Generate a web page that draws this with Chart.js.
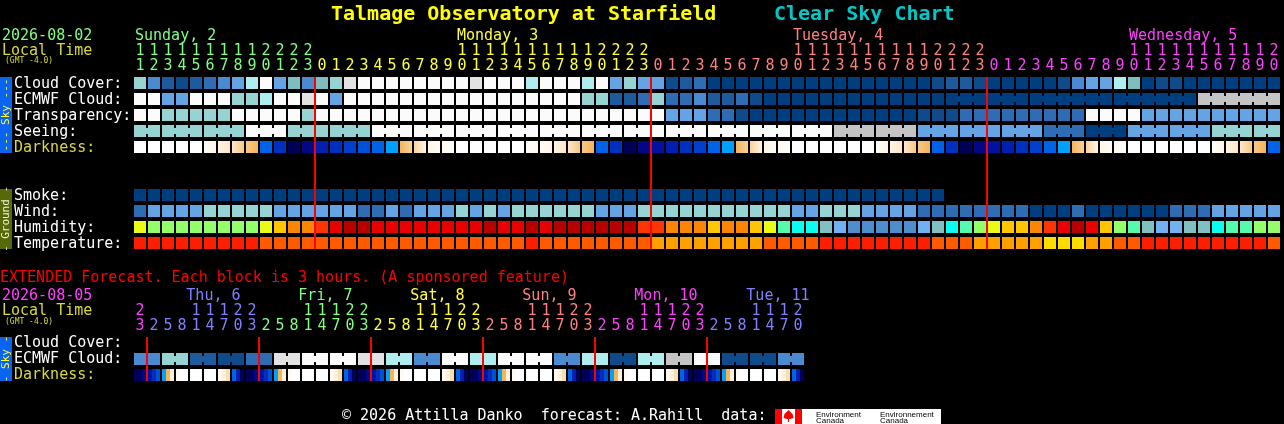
<!DOCTYPE html>
<html>
<head>
<meta charset="utf-8">
<title>Talmage Observatory at Starfield - Clear Sky Chart</title>
<script src="https://cdn.jsdelivr.net/npm/chart.js@4.4.1/dist/chart.umd.min.js"></script>
<style>
  html, body { margin:0; padding:0; background:#000; overflow:hidden; }
  #wrap { width:1284px; height:424px; }
</style>
</head>
<body>
<div id="wrap"><canvas id="csc" width="1284" height="424"></canvas></div>
<script>
// ── Clear Sky Chart: hourly blocks + extended 3-hour forecast ──

// ── HOURS (local time, one column per hour) ───────────
var HOURS = [11,12,13,14,15,16,17,18,19,20,21,22,23,
  0,1,2,3,4,5,6,7,8,9,10,11,12,13,14,15,16,17,18,19,20,21,22,23,
  0,1,2,3,4,5,6,7,8,9,10,11,12,13,14,15,16,17,18,19,20,21,22,23,
  0,1,2,3,4,5,6,7,8,9,10,11,12,13,14,15,16,17,18,19,20];
var DAY_NAMES  = ['Sunday, 2', 'Monday, 3', 'Tuesday, 4', 'Wednesday, 5'];
var DAY_COLORS = ['#80ff80', '#ffff40', '#ff8080', '#ff40ff'];

// Sky levels: 0 = clear/dark blue ... 11 = overcast/white
var CLOUD = [7,4,2,1,2,3,4,5,8,11,5,6,4,
  6,7,10,11,11,11,11,11,11,11,11,10,11,11,11,8,11,11,11,8,11,5,7,5,
  5,1,2,3,0,0,0,0,0,0,0,0,0,0,0,0,0,0,0,0,1,2,2,1,
  0,0,0,0,0,1,4,5,5,8,6,0,1,1,0,0,0,0,0,0,0];
var ECMWF = [11,11,5,5,11,11,11,7,7,8,11,11,10,
  11,5,11,11,11,11,11,11,11,11,11,11,11,11,11,11,11,11,11,7,7,2,2,3,
  7,3,3,4,2,2,3,1,0,0,0,0,0,0,0,0,0,0,0,0,0,0,0,0,
  0,0,0,0,0,0,0,0,0,0,0,0,0,0,0,9,9,9,9,9,9];
var ECMWF_GROUPS = [[58,60],[61,63],[64,69],[70,75],[76,81]];
var TRANSP = [11,11,7,7,7,7,7,11,11,11,11,11,7,
  11,11,11,11,11,11,11,11,11,11,11,11,11,11,11,11,11,11,11,11,11,11,11,11,
  11,5,5,5,3,3,1,0,0,0,0,0,0,0,0,0,0,0,0,1,1,1,3,3,
  3,3,3,3,3,3,3,11,11,11,11,5,5,5,5,5,5,5,5,5,5];
var SEEING = [7,7,7,7,7,7,7,7,11,11,11,7,7,
  7,7,7,7,11,11,11,11,11,11,11,11,11,11,11,11,11,11,11,11,11,11,11,11,
  11,11,11,11,11,11,11,11,11,11,11,11,11,9,9,9,9,9,9,5,5,5,5,5,
  5,5,5,5,3,3,3,0,0,0,5,5,5,5,5,5,7,7,7,7,7];
// Darkness: 0 = daylight ... 4 = twilight, 5..13 = night (deeper)
var DARK = [0,0,0,0,0,1,2,3,4,6,9,13,12,
  10,9,8,7,6,5,4,2,1,1,0,0,0,0,0,1,1,2,3,4,6,9,13,12,
  11,10,9,8,6,5,4,2,1,1,0,0,0,0,0,0,1,2,3,4,6,9,13,12,
  11,10,9,8,6,5,4,2,1,1,0,0,0,0,0,0,1,2,3,4,6];

// Ground rows
var SMOKE = [0,0,0,0,0,0,0,0,0,0,0,0,0,0,0,0,0,0,0,0,0,0,0,0,0,0,0,0,0,
  0,0,0,0,0,0,0,0,0,0,0,0,0,0,0,0,0,0,0,0,0,0,0,0,0,0,0,0,0];
var WIND = [1,2,2,2,2,3,3,3,3,3,2,2,2,2,2,2,1,1,2,1,2,
  2,2,3,2,3,2,3,3,3,3,3,3,2,2,2,3,3,3,3,3,3,3,3,3,3,3,2,2,3,3,3,
  2,2,2,2,1,1,1,1,1,1,1,1,0,0,0,1,0,0,0,0,0,0,1,1,1,2,2,2,2,2];
var HUMID = [67,62,62,62,62,62,62,62,62,67,72,77,77,82,87,92,92,87,87,87,87,
  87,87,87,87,92,87,87,92,87,92,92,92,92,92,92,82,82,77,77,77,72,77,77,72,67,57,52,52,47,42,
  37,37,37,37,37,42,47,52,57,62,67,72,72,77,82,87,92,87,72,62,57,47,42,42,47,47,52,57,57,62,62];
var TEMP = [88,88,88,88,88,88,88,88,88,
  81,81,81,81,81,81,81,81,81,81,81,81,81,81,81,81,81,81,81,88,
  81,81,81,81,81,81,81,81,72,72,72,72,72,72,72,72,81,81,81,81,
  88,88,88,88,88,88,88,88,81,81,81,72,72,72,72,72,66,66,66,72,72,81,81,
  88,88,88,88,88,88,88,88,88,81];

// ── EXTENDED (one column per 3 hours) ─────────────────
var EXT_HOURS = [23,
  2,5,8,11,14,17,20,23, 2,5,8,11,14,17,20,23, 2,5,8,11,14,17,20,23,
  2,5,8,11,14,17,20,23, 2,5,8,11,14,17,20,23, 2,5,8,11,14,17,20];
var EXT_DAY_NAMES  = ['', 'Thu, 6', 'Fri, 7', 'Sat, 8', 'Sun, 9', 'Mon, 10', 'Tue, 11'];
var EXT_DAY_COLORS = ['#ff40ff', '#8080ff', '#80ff80', '#ffff40', '#ff8080', '#ff40ff', '#8080ff'];
var EXT_ECMWF = [4,7,2,1,3,10,11,11,10,8,4,11,8,11,11,4,8,1,8,9,11,1,1,4]; // per 6 h
var EXT_DARK = [[13,13,12],
  [11,9,7],[5,4,2],[1,0,0],[0,0,0],[0,0,0],[1,2,3],[6,10,13],[13,13,12],
  [11,9,7],[5,4,2],[1,0,0],[0,0,0],[0,0,0],[1,2,3],[6,10,13],[13,13,12],
  [11,9,7],[5,4,2],[1,0,0],[0,0,0],[0,0,0],[1,2,3],[6,10,13],[13,13,12],
  [11,9,7],[5,4,2],[1,0,0],[0,0,0],[0,0,0],[1,2,3],[6,10,13],[13,13,12],
  [11,9,7],[5,4,2],[1,0,0],[0,0,0],[0,0,0],[1,2,3],[6,10,13],[13,13,12],
  [11,9,7],[5,4,2],[1,0,0],[0,0,0],[0,0,0],[1,2,3],[6,10,13]];

// ── PALETTES ──────────────────────────────────────────
var SKY = ['#003f7f','#0f4b8b','#1d5a9e','#2e6cb4','#4a8ad0','#64a4e4',
           '#7ebebe','#96d4d4','#aeeeee','#c4c4c4','#e2e2e2','#fbfbfb'];
var DARK_COLORS = ['#ffffff','#fffaf2','#fff0da','#fcdcb2','#f4b45c','#00a0ff','#0062e6',
                   '#0050d8','#0040cc','#0030bf','#0020b0','#0012a0','#000888','#000058'];
var WIND_COLORS = ['#003f7f','#2e6cb4','#64a4e4','#96d4d4'];

function humColor(h) {
  var bins = ['#08035d','#0d4d8d','#3070b0','#4e8ece','#71b1f1','#80c0c0','#09feed','#55faad',
              '#94fe6a','#eafb16','#fec600','#fc8602','#fe3401','#ea0000','#b70000','#e10000'];
  var i = Math.max(0, Math.min(bins.length - 1, Math.floor((h - 20) / 5)));
  return bins[i];
}
function tempColor(t) {
  if (t >= 86) return '#fc1e00';
  if (t >= 77) return '#fe5a00';
  if (t >= 68) return '#ffa000';
  return '#fedc00';
}

// ── LAYOUT (rows, in row units of 16 px) ──────────────
var ROW = { cloud:0, ecmwf:1, transp:2, seeing:3, dark:4,
            smoke:7, wind:8, humid:9, temp:10,
            xCloud:16.25, xEcmwf:17.25, xDark:18.25 };
var HALF = 0.375;   // 12 px block
var JOIN = 0.19;    // connector half-height
var MONO = '"DejaVu Sans Mono", "Liberation Mono", monospace';

// ── HELPERS ───────────────────────────────────────────
function dayIndex(hours) {
  var d = 0, out = [];
  for (var i = 0; i < hours.length; i++) {
    if (i > 0 && hours[i] < hours[i - 1]) d++;
    out.push(d);
  }
  return out;
}
var DAY_OF = dayIndex(HOURS);
var EXT_DAY_OF = dayIndex(EXT_HOURS);

function hex2rgb(h) {
  return [parseInt(h.substr(1,2),16), parseInt(h.substr(3,2),16), parseInt(h.substr(5,2),16)];
}
function mix(a, b) {
  var p = hex2rgb(a), q = hex2rgb(b);
  return 'rgb(' + Math.round((p[0]+q[0])/2) + ',' + Math.round((p[1]+q[1])/2) + ',' + Math.round((p[2]+q[2])/2) + ')';
}

function blocks(values, row) {
  return values.map(function (v, i) { return { x: i, y: [row - HALF, row + HALF] }; });
}
function blockSet(values, row, colors, extra) {
  var ds = {
    data: blocks(values, row),
    backgroundColor: values.map(colors),
    barThickness: 12, grouped: false, borderWidth: 0, inflateAmount: 0
  };
  for (var k in extra) ds[k] = extra[k];
  return ds;
}
// connectors between columns that belong to the same forecast block
function joinSet(values, row, colors, sameBlock) {
  var data = [], bg = [];
  for (var i = 0; i < values.length - 1; i++) {
    if (sameBlock(i, i + 1)) {
      data.push({ x: i + 0.5, y: [row - JOIN, row + JOIN] });
      bg.push(colors(values[i]));
    }
  }
  return { data: data, backgroundColor: bg, barThickness: 4, grouped: false, borderWidth: 0, inflateAmount: 0 };
}
function skyColor(v) { return SKY[v]; }

// seeing comes in 3-hour blocks (starting at 1h, 4h, 7h ...)
function seeingBlock(i) { return Math.floor((DAY_OF[i] * 24 + HOURS[i] - 1) / 3); }
function ecmwfBlock(i) {
  for (var g = 0; g < ECMWF_GROUPS.length; g++)
    if (i >= ECMWF_GROUPS[g][0] && i <= ECMWF_GROUPS[g][1]) return g;
  return -1 - i;
}

// darkness: twilight hours fade into their neighbours
function darkFill(ctx) {
  var i = ctx.dataIndex, lv = DARK[i], base = DARK_COLORS[lv];
  var xs = ctx.chart.scales && ctx.chart.scales.x;
  if (lv < 1 || lv > 4 || !xs) return base;
  var prev = DARK[i - 1], next = DARK[i + 1];
  var left  = (prev !== undefined && prev <= 4) ? mix(DARK_COLORS[prev], base) : base;
  var right = (next !== undefined && next <= 4) ? mix(base, DARK_COLORS[next]) : base;
  var cx = xs.getPixelForValue(i);
  var g = ctx.chart.ctx.createLinearGradient(cx - 6, 0, cx + 6, 0);
  g.addColorStop(0, left);
  g.addColorStop(1, right);
  return g;
}

// ── DATASETS ──────────────────────────────────────────
var extEcmwfCols = [];
EXT_ECMWF.forEach(function (v) { extEcmwfCols.push(v, v); });

var extDarkData = [], extDarkBg = [];
EXT_DARK.forEach(function (tri, c) {
  tri.forEach(function (lv, k) {
    extDarkData.push({ x: c + (k - 1) * 4 / 14, y: [ROW.xDark - HALF, ROW.xDark + HALF] });
    extDarkBg.push(DARK_COLORS[lv]);
  });
});

var datasets = [
  blockSet(CLOUD,  ROW.cloud,  skyColor),
  blockSet(ECMWF,  ROW.ecmwf,  skyColor),
  joinSet(ECMWF,   ROW.ecmwf,  skyColor, function (a, b) { return ecmwfBlock(a) === ecmwfBlock(b); }),
  blockSet(TRANSP, ROW.transp, skyColor),
  blockSet(SEEING, ROW.seeing, skyColor),
  joinSet(SEEING,  ROW.seeing, skyColor, function (a, b) { return seeingBlock(a) === seeingBlock(b); }),
  { data: blocks(DARK, ROW.dark), backgroundColor: darkFill,
    barThickness: 12, grouped: false, borderWidth: 0, inflateAmount: 0 },
  blockSet(SMOKE, ROW.smoke, skyColor),
  blockSet(WIND,  ROW.wind,  function (v) { return WIND_COLORS[v]; }),
  blockSet(HUMID, ROW.humid, humColor),
  blockSet(TEMP,  ROW.temp,  tempColor),
  blockSet(extEcmwfCols, ROW.xEcmwf, skyColor),
  joinSet(extEcmwfCols,  ROW.xEcmwf, skyColor, function (a, b) { return Math.floor(a / 2) === Math.floor(b / 2); }),
  { data: extDarkData, backgroundColor: extDarkBg,
    barThickness: 4, grouped: false, borderWidth: 0, inflateAmount: 0 }
];

// ── TEXT, RED MIDNIGHT LINES, SIDE TABS ───────────────
function txt(ctx, s, x, y, color, font, align) {
  ctx.font = font || ('15px ' + MONO);
  ctx.fillStyle = color;
  ctx.textAlign = align || 'left';
  ctx.textBaseline = 'alphabetic';
  ctx.fillText(s, x, y);
}
function sideTab(ctx, ys, r0, r1, bg, fg, label) {
  var top = ys.getPixelForValue(r0 - HALF), bot = ys.getPixelForValue(r1 + HALF);
  ctx.fillStyle = bg;
  ctx.fillRect(0, top, 12, bot - top);
  ctx.save();
  ctx.translate(6.5, (top + bot) / 2);
  ctx.rotate(-Math.PI / 2);
  ctx.font = '11px ' + MONO;
  ctx.fillStyle = fg;
  ctx.textAlign = 'center';
  ctx.textBaseline = 'middle';
  ctx.fillText(label, 0, 0);
  ctx.restore();
}
function hourLabels(ctx, xs, hours, dayOf, colors, yTens, yUnits) {
  hours.forEach(function (h, c) {
    var x = xs.getPixelForValue(c), col = colors[dayOf[c]];
    if (h >= 10) txt(ctx, String(Math.floor(h / 10)), x, yTens, col, null, 'center');
    txt(ctx, String(h % 10), x, yUnits, col, null, 'center');
  });
}
function midnightLines(ctx, xs, ys, hours, r0, r1) {
  var top = ys.getPixelForValue(r0 - HALF), bot = ys.getPixelForValue(r1 + HALF);
  ctx.fillStyle = '#ff0000';
  for (var c = 1; c < hours.length; c++) {
    if (hours[c] < hours[c - 1]) {
      var x = xs.getPixelForValue(c - 0.5);
      ctx.fillRect(x - 1, top, 2, bot - top);
    }
  }
}

var cscPlugin = {
  id: 'csc',
  beforeDraw: function (chart) {
    var ctx = chart.ctx;
    ctx.save();
    ctx.fillStyle = '#000';
    ctx.fillRect(0, 0, chart.width, chart.height);
    ctx.restore();
  },
  afterDatasetsDraw: function (chart) {
    var ctx = chart.ctx, xs = chart.scales.x, ys = chart.scales.y;
    var rowY = function (r) { return ys.getPixelForValue(r) + 5; };
    ctx.save();

    midnightLines(ctx, xs, ys, HOURS, ROW.cloud, ROW.temp);
    midnightLines(ctx, xs, ys, EXT_HOURS, ROW.xCloud, ROW.xDark);

    // title
    txt(ctx, 'Talmage Observatory at Starfield', 331, 20, '#ffff00', 'bold 20px ' + MONO);
    txt(ctx, 'Clear Sky Chart', 774, 20, '#00c8c8', 'bold 20px ' + MONO);

    // main header
    txt(ctx, '2026-08-02', 2, 40, '#80ff80');
    txt(ctx, 'Local Time', 2, 55, '#d8d840');
    txt(ctx, '(GMT -4.0)', 5, 63, '#d8d840', '8px ' + MONO);
    DAY_NAMES.forEach(function (name, d) {
      for (var c = 0; c < HOURS.length; c++) {
        if (DAY_OF[c] === d && HOURS[c] >= 10) {
          txt(ctx, name, xs.getPixelForValue(c) - 5, 40, DAY_COLORS[d]);
          break;
        }
      }
    });
    hourLabels(ctx, xs, HOURS, DAY_OF, DAY_COLORS, 55, 70);

    // row labels
    [['Cloud Cover:', ROW.cloud], ['ECMWF Cloud:', ROW.ecmwf], ['Transparency:', ROW.transp],
     ['Seeing:', ROW.seeing], ['Darkness:', ROW.dark], ['Smoke:', ROW.smoke], ['Wind:', ROW.wind],
     ['Humidity:', ROW.humid], ['Temperature:', ROW.temp]].forEach(function (l) {
      txt(ctx, l[0], 14, rowY(l[1]), l[1] === ROW.dark ? '#d8d840' : '#ffffff');
    });
    sideTab(ctx, ys, ROW.cloud, ROW.dark, '#0a64f0', '#ffff40', '--- Sky ---');
    sideTab(ctx, ys, ROW.smoke, ROW.temp, '#56690a', '#f0f0d0', '- Ground -');

    // extended header
    txt(ctx, 'EXTENDED Forecast. Each block is 3 hours. (A sponsored feature)', 0, 282, '#ff0000');
    txt(ctx, '2026-08-05', 2, 300, '#ff40ff');
    txt(ctx, 'Local Time', 2, 315, '#d8d840');
    txt(ctx, '(GMT -4.0)', 5, 324, '#d8d840', '8px ' + MONO);
    EXT_DAY_NAMES.forEach(function (name, d) {
      if (!name) return;
      for (var c = 0; c < EXT_HOURS.length; c++) {
        if (EXT_DAY_OF[c] === d && EXT_HOURS[c] >= 10) {
          txt(ctx, name, xs.getPixelForValue(c + (10 - EXT_HOURS[c]) / 3) - 5, 300, EXT_DAY_COLORS[d]);
          break;
        }
      }
    });
    hourLabels(ctx, xs, EXT_HOURS, EXT_DAY_OF, EXT_DAY_COLORS, 315, 330);
    txt(ctx, 'Cloud Cover:', 14, rowY(ROW.xCloud) - 1, '#ffffff');
    txt(ctx, 'ECMWF Cloud:', 14, rowY(ROW.xEcmwf) - 1, '#ffffff');
    txt(ctx, 'Darkness:', 14, rowY(ROW.xDark) - 1, '#d8d840');
    sideTab(ctx, ys, ROW.xCloud, ROW.xDark, '#0a64f0', '#ffff40', '- Sky -');

    // footer + data credit logo
    txt(ctx, '\u00a9 2026 Attilla Danko  forecast: A.Rahill  data:', 342, 420, '#ffffff');
    ctx.fillStyle = '#ff0000';
    ctx.fillRect(775, 409, 7, 15);
    ctx.fillRect(795, 409, 7, 15);
    ctx.fillStyle = '#ffffff';
    ctx.fillRect(782, 409, 13, 15);
    ctx.fillRect(802, 409, 139, 15);
    ctx.fillStyle = '#ff0000';
    ctx.beginPath();
    ctx.moveTo(788.5, 410); ctx.lineTo(792.5, 414); ctx.lineTo(793.5, 418);
    ctx.lineTo(790, 419); ctx.lineTo(787, 419); ctx.lineTo(783.5, 418);
    ctx.lineTo(784.5, 414); ctx.closePath();
    ctx.fill();
    ctx.fillRect(788, 419, 1, 3);
    txt(ctx, 'Environment', 816, 416.5, '#000000', '8px "Liberation Sans", sans-serif');
    txt(ctx, 'Canada', 816, 423, '#000000', '8px "Liberation Sans", sans-serif');
    txt(ctx, 'Environnement', 880, 416.5, '#000000', '8px "Liberation Sans", sans-serif');
    txt(ctx, 'Canada', 880, 423, '#000000', '8px "Liberation Sans", sans-serif');

    ctx.restore();
  }
};

// ── CHART ─────────────────────────────────────────────
new Chart(document.getElementById('csc').getContext('2d'), {
  type: 'bar',
  data: { datasets: datasets },
  options: {
    responsive: false,
    animation: false,
    events: [],
    layout: { padding: 0 },
    plugins: { legend: { display: false }, tooltip: { enabled: false } },
    scales: {
      // column c is centred at 140 + 14 c px
      x: { type: 'linear', display: false, offset: false, bounds: 'data',
           min: -10, max: (1284 - 140) / 14 },
      // row r is centred at 83 + 16 r px
      y: { type: 'linear', display: false, reverse: true, bounds: 'data',
           min: -83 / 16, max: (424 - 83) / 16 }
    }
  },
  plugins: [cscPlugin]
});
</script>
</body>
</html>
